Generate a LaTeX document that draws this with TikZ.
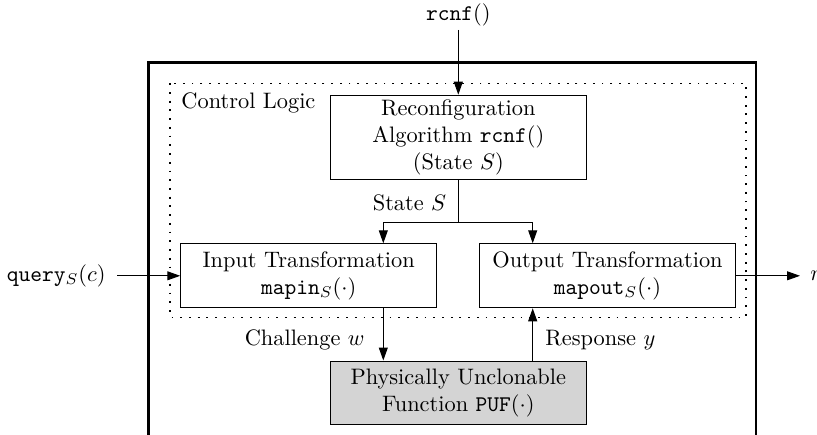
\documentclass[tikz,border=0pt]{standalone}
\usetikzlibrary{arrows.meta,calc}
\begin{document}
\begin{tikzpicture}[x=0.447pt,y=-0.447pt,
  box/.style={draw, line width=0.45pt, minimum width=114.4pt, align=center, inner sep=2pt},
  arr/.style={-{Triangle[length=5.8pt,width=4pt]}, line width=0.45pt},
  lbl/.style={inner sep=0pt},
  outerbox/.style={draw, line width=1.2pt},
  ctrl/.style={draw, line width=0.6pt, dash pattern=on 0.8pt off 3.1pt}]
\clip (0,0) rectangle (817,435);
\draw[outerbox] (148.3,62.3) rectangle (756,480);
\draw[ctrl] (170,83.3) rectangle (746,317.3);
\node[lbl, anchor=west] (cl) at (181,103) {Control Logic};

\node[box, minimum height=37.5pt] (rc) at (458.3,137.2)
  {Reconfiguration\\Algorithm \texttt{rcnf}$()$\\(State $S$)};
\node[box, minimum height=28.6pt] (in) at (308.7,275.8)
  {Input Transformation\\\texttt{mapin}$_S(\cdot)$};
\node[box, minimum height=28.6pt] (out) at (607.5,275.8)
  {Output Transformation\\\texttt{mapout}$_S(\cdot)$};
\node[box, minimum height=28.6pt, fill=black!17] (puf) at (458.3,393)
  {Physically Unclonable\\Function \texttt{PUF}$(\cdot)$};

\node[lbl] (top) at (458.3,15) {\texttt{rcnf}$()$};
\coordinate (topend) at (458.3,30);
\draw[arr] (topend) -- (rc.north);

\coordinate (j) at (458.3,222.7);
\coordinate (cx) at (383.3,0);
\coordinate (rx) at (532.7,0);
\draw[line width=0.45pt] (rc.south) -- (j);
\draw[arr] (j) -| (in.north -| cx);
\draw[arr] (j) -| (out.north -| rx);
\node[lbl, anchor=east] (st) at (446.7,203) {State $S$};

\node[lbl, anchor=east] (q) at (106,275.8) {\texttt{query}$_S(c)$};
\coordinate (qs) at (117,275.8);
\draw[arr] (qs) -- (in.west);

\coordinate (rt) at (800,275.8);
\draw[arr] (out.east) -- (rt);
\node[lbl, anchor=west] (r) at (810,275.8) {$r$};

\draw[arr] (in.south -| cx) -- (puf.north -| cx);
\draw[arr] (puf.north -| rx) -- (out.south -| rx);
\node[lbl, anchor=east] (ch) at (365,340) {Challenge $w$};
\node[lbl, anchor=west] (re) at (545,340) {Response $y$};
\end{tikzpicture}
\end{document}
